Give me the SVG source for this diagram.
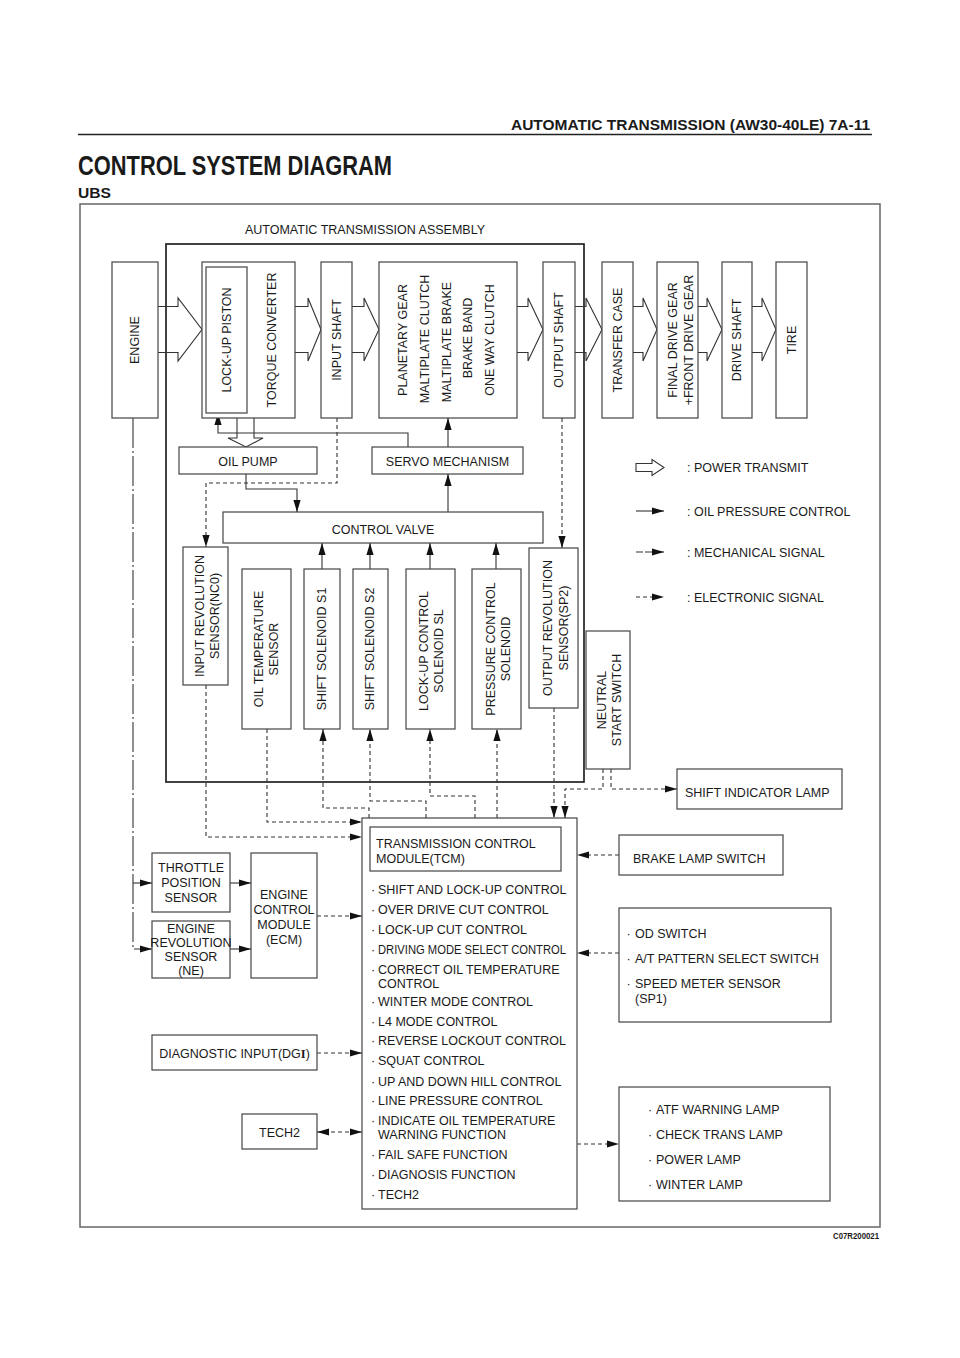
<svg xmlns="http://www.w3.org/2000/svg" width="960" height="1358" viewBox="0 0 960 1358">
<defs>
<style>
text{font-family:"Liberation Sans",Arial,sans-serif;fill:#1a1a1a;font-size:12.5px}
text.hd{font-size:15.5px;font-weight:bold}
text.ttl{font-size:27px;font-weight:bold}
text.sub{font-size:14.5px;font-weight:bold}
text.code{font-size:9px;font-weight:bold}
.b{fill:#fff;stroke:#444;stroke-width:1.2}
.ln{fill:none;stroke:#333;stroke-width:1.1}
.el{fill:none;stroke:#333;stroke-width:1.1;stroke-dasharray:4,3}
.me{fill:none;stroke:#333;stroke-width:1.1;stroke-dasharray:30,3,2,3}
.pw{fill:none;stroke:#333;stroke-width:1.1}
.c{text-anchor:middle}
.v{text-anchor:middle}
</style>
<marker id="ah" markerWidth="13" markerHeight="8" refX="12" refY="4" orient="auto-start-reverse" markerUnits="userSpaceOnUse"><path d="M0,0.4 L12,4 L0,7.6 z" fill="#111"/></marker>
</defs>
<rect width="960" height="1358" fill="#fff"/>

<g id="header">
<text class="hd" x="511" y="130" textLength="359" lengthAdjust="spacingAndGlyphs">AUTOMATIC TRANSMISSION (AW30-40LE)  7A-11</text>
<line x1="78" y1="134.5" x2="872" y2="134.5" stroke="#222" stroke-width="1.6"/>
<text class="ttl" x="78" y="175" textLength="314" lengthAdjust="spacingAndGlyphs">CONTROL SYSTEM DIAGRAM</text>
<text class="sub" x="78" y="198" textLength="33" lengthAdjust="spacingAndGlyphs">UBS</text>
</g>

<rect id="frame" x="80" y="204" width="800" height="1023" fill="none" stroke="#666" stroke-width="1.5"/>
<text class="code" x="879" y="1239" text-anchor="end" textLength="46" lengthAdjust="spacingAndGlyphs">C07R200021</text>

<g id="assembly">
<text x="365" y="234" class="c">AUTOMATIC TRANSMISSION ASSEMBLY</text>
<rect x="166" y="244" width="418" height="538" fill="none" stroke="#222" stroke-width="1.7"/>
</g>

<g id="connectors">
<!-- power transmit arrows -->
<path class="pw" d="M158,306.5 H178 V298 L202,329.5 L178,361 V352.5 H158"/>
<path class="pw" d="M295,306.5 H308 V298 L321,329.5 L308,361 V352.5 H295"/>
<path class="pw" d="M352,306.5 H364 V298 L379,329.5 L364,361 V352.5 H352"/>
<path class="pw" d="M517,306.5 H528 V298 L543,329.5 L528,361 V352.5 H517"/>
<path class="pw" d="M575,306.5 H586 V298 L602,329.5 L586,361 V352.5 H575"/>
<path class="pw" d="M633,306.5 H643 V298 L657,329.5 L643,361 V352.5 H633"/>
<path class="pw" d="M698,306.5 H707 V298 L722,329.5 L707,361 V352.5 H698"/>
<path class="pw" d="M752,306.5 H762 V298 L776,329.5 L762,361 V352.5 H752"/>
<!-- torque converter to oil pump hollow arrow -->
<path class="pw" d="M237,418 V438 H228 L246,447 L263,438 H254 V418"/>
<!-- oil pressure -->
<path class="ln" d="M408,447 V433 H218 V413" marker-end="url(#ah)"/>
<path class="ln" d="M448,447 V418" marker-end="url(#ah)"/>
<path class="ln" d="M448,512 V474" marker-end="url(#ah)"/>
<path class="ln" d="M246,474 V489 H297 V512" marker-end="url(#ah)"/>
<path class="ln" d="M322,569 V543" marker-end="url(#ah)"/>
<path class="ln" d="M370,569 V543" marker-end="url(#ah)"/>
<path class="ln" d="M430,569 V543" marker-end="url(#ah)"/>
<path class="ln" d="M496,569 V543" marker-end="url(#ah)"/>
<!-- electronic -->
<path class="el" d="M337,418 V483 H206 V547" marker-end="url(#ah)"/>
<path class="el" d="M562,418 V548" marker-end="url(#ah)"/>
<path class="el" d="M267,729 V822 H362" marker-end="url(#ah)"/>
<path class="el" d="M206,685 V837 H362" marker-end="url(#ah)"/>
<path class="el" d="M369,818 V808 H323 V729" marker-end="url(#ah)"/>
<path class="el" d="M426,818 V801 H370 V729" marker-end="url(#ah)"/>
<path class="el" d="M475,818 V796 H430 V729" marker-end="url(#ah)"/>
<path class="el" d="M497,818 V729" marker-end="url(#ah)"/>
<path class="el" d="M554,708 V818" marker-end="url(#ah)"/>
<path class="el" d="M603,769 V789 H565 V818" marker-end="url(#ah)"/>
<path class="el" d="M611,769 V789 H677" marker-end="url(#ah)"/>
<path class="el" d="M317,916 H362" marker-end="url(#ah)"/>
<path class="el" d="M317,1053 H362" marker-end="url(#ah)"/>
<path class="el" d="M317,1132 H362" marker-start="url(#ah)" marker-end="url(#ah)"/>
<path class="el" d="M619,855 H577" marker-end="url(#ah)"/>
<path class="el" d="M619,953 H577" marker-end="url(#ah)"/>
<path class="el" d="M577,1144 H619" marker-end="url(#ah)"/>
<!-- mechanical -->
<path class="me" d="M133,418 V949 H152" marker-end="url(#ah)"/>
<path class="me" d="M133,883 H152" marker-end="url(#ah)"/>
<path class="ln" d="M230,883 H251" marker-end="url(#ah)"/>
<path class="ln" d="M230,949 H251" marker-end="url(#ah)"/>
</g>

<g id="engine"><rect class="b" x="112" y="262" width="46" height="156"/>
<text class="v" transform="translate(135,340) rotate(-90)" dy="0.35em">ENGINE</text></g>

<g id="torque-converter"><rect class="b" x="202" y="262" width="93" height="156"/>
<rect class="b" x="206" y="267" width="41" height="146"/>
<text class="v" transform="translate(226.5,340) rotate(-90)" dy="0.35em">LOCK-UP PISTON</text>
<text class="v" transform="translate(272,340) rotate(-90)" dy="0.35em">TORQUE CONVERTER</text></g>

<g id="input-shaft"><rect class="b" x="321" y="262" width="31" height="156"/>
<text class="v" transform="translate(337,340) rotate(-90)" dy="0.35em">INPUT SHAFT</text></g>

<g id="planetary"><rect class="b" x="379" y="262" width="138" height="156"/>
<text class="v" transform="translate(403,340) rotate(-90)" dy="0.35em">PLANETARY GEAR</text>
<text class="v" transform="translate(425,339) rotate(-90)" dy="0.35em">MALTIPLATE CLUTCH</text>
<text class="v" transform="translate(447,342) rotate(-90)" dy="0.35em">MALTIPLATE BRAKE</text>
<text class="v" transform="translate(468,338) rotate(-90)" dy="0.35em">BRAKE BAND</text>
<text class="v" transform="translate(490,340) rotate(-90)" dy="0.35em">ONE WAY CLUTCH</text></g>

<g id="output-shaft"><rect class="b" x="543" y="262" width="32" height="156"/>
<text class="v" transform="translate(559,340) rotate(-90)" dy="0.35em">OUTPUT SHAFT</text></g>

<g id="transfer-case"><rect class="b" x="602" y="262" width="31" height="156"/>
<text class="v" transform="translate(617.5,340) rotate(-90)" dy="0.35em">TRANSFER CASE</text></g>

<g id="final-drive"><rect class="b" x="657" y="262" width="41" height="156"/>
<text class="v" transform="translate(673,340) rotate(-90)" dy="0.35em">FINAL DRIVE GEAR</text>
<text class="v" transform="translate(689,340) rotate(-90)" dy="0.35em">+FRONT DRIVE GEAR</text></g>

<g id="drive-shaft"><rect class="b" x="722" y="262" width="30" height="156"/>
<text class="v" transform="translate(737,340) rotate(-90)" dy="0.35em">DRIVE SHAFT</text></g>

<g id="tire"><rect class="b" x="776" y="262" width="31" height="156"/>
<text class="v" transform="translate(791.5,340) rotate(-90)" dy="0.35em">TIRE</text></g>

<g id="oil-pump"><rect class="b" x="179" y="447" width="138" height="27"/>
<text x="248" y="465.5" class="c">OIL PUMP</text></g>

<g id="servo"><rect class="b" x="372" y="447" width="151" height="27"/>
<text x="447.5" y="465.5" class="c">SERVO MECHANISM</text></g>

<g id="control-valve"><rect class="b" x="223" y="512" width="320" height="31"/>
<text x="383" y="534" class="c">CONTROL VALVE</text></g>

<g id="input-rev-sensor"><rect class="b" x="183" y="547" width="45" height="138"/>
<text class="v" transform="translate(200,616) rotate(-90)" dy="0.35em">INPUT REVOLUTION</text>
<text class="v" transform="translate(215,616) rotate(-90)" dy="0.35em">SENSOR(NC0)</text></g>

<g id="oil-temp-sensor"><rect class="b" x="242" y="569" width="49" height="160"/>
<text class="v" transform="translate(259,649) rotate(-90)" dy="0.35em">OIL TEMPERATURE</text>
<text class="v" transform="translate(274,649) rotate(-90)" dy="0.35em">SENSOR</text></g>

<g id="shift-solenoid-s1"><rect class="b" x="304" y="569" width="36" height="160"/>
<text class="v" transform="translate(322,649) rotate(-90)" dy="0.35em">SHIFT SOLENOID S1</text></g>

<g id="shift-solenoid-s2"><rect class="b" x="353" y="569" width="35" height="160"/>
<text class="v" transform="translate(370,649) rotate(-90)" dy="0.35em">SHIFT SOLENOID S2</text></g>

<g id="lockup-solenoid"><rect class="b" x="406" y="569" width="49" height="160"/>
<text class="v" transform="translate(424,651) rotate(-90)" dy="0.35em">LOCK-UP CONTROL</text>
<text class="v" transform="translate(439,651) rotate(-90)" dy="0.35em">SOLENOID SL</text></g>

<g id="pressure-solenoid"><rect class="b" x="472" y="569" width="49" height="160"/>
<text class="v" transform="translate(491,649) rotate(-90)" dy="0.35em">PRESSURE CONTROL</text>
<text class="v" transform="translate(506,649) rotate(-90)" dy="0.35em">SOLENOID</text></g>

<g id="output-rev-sensor"><rect class="b" x="529" y="548" width="49" height="160"/>
<text class="v" transform="translate(548,628) rotate(-90)" dy="0.35em">OUTPUT REVOLUTION</text>
<text class="v" transform="translate(564,628) rotate(-90)" dy="0.35em">SENSOR(SP2)</text></g>

<g id="neutral-start-switch"><rect class="b" x="586" y="631" width="44" height="138"/>
<text class="v" transform="translate(602,700) rotate(-90)" dy="0.35em">NEUTRAL</text>
<text class="v" transform="translate(617,700) rotate(-90)" dy="0.35em">START SWITCH</text></g>

<g id="shift-indicator-lamp"><rect class="b" x="677" y="769" width="165" height="40"/>
<text x="685" y="796.5">SHIFT INDICATOR LAMP</text></g>

<g id="legend">
<path class="pw" d="M636,463.5 H652 V459.5 L664,467.5 L652,475.5 V471.5 H636 Z"/>
<text x="687" y="472">: POWER TRANSMIT</text>
<path class="ln" d="M636,511 H664" marker-end="url(#ah)"/>
<text x="687" y="515.5">: OIL PRESSURE CONTROL</text>
<path fill="none" stroke="#333" stroke-width="1.1" stroke-dasharray="7,2,3,0" d="M636,552 H664" marker-end="url(#ah)"/>
<text x="687" y="556.5">: MECHANICAL SIGNAL</text>
<path class="el" d="M636,597 H664" marker-end="url(#ah)"/>
<text x="687" y="601.5">: ELECTRONIC SIGNAL</text>
</g>

<g id="throttle-sensor"><rect class="b" x="152" y="853" width="78" height="59"/>
<text x="191" y="872" class="c">THROTTLE</text>
<text x="191" y="887" class="c">POSITION</text>
<text x="191" y="902" class="c">SENSOR</text></g>

<g id="engine-rev-sensor"><rect class="b" x="152" y="921" width="78" height="57"/>
<text x="191" y="932.5" class="c">ENGINE</text>
<text x="191" y="946.5" class="c">REVOLUTION</text>
<text x="191" y="960.5" class="c">SENSOR</text>
<text x="191" y="975" class="c">(NE)</text></g>

<g id="ecm"><rect class="b" x="251" y="853" width="66" height="125"/>
<text x="284" y="898.5" class="c">ENGINE</text>
<text x="284" y="913.5" class="c">CONTROL</text>
<text x="284" y="928.5" class="c">MODULE</text>
<text x="284" y="943.5" class="c">(ECM)</text></g>

<g id="diagnostic-input"><rect class="b" x="152" y="1035" width="165" height="35"/>
<text x="234.5" y="1057.5" class="c">DIAGNOSTIC INPUT(DG<tspan font-family="'Liberation Serif',serif" font-weight="bold">I</tspan>)</text></g>

<g id="tech2"><rect class="b" x="242" y="1114" width="75" height="35"/>
<text x="279.5" y="1136.5" class="c">TECH2</text></g>

<g id="tcm"><rect class="b" x="362" y="818" width="215" height="391"/>
<rect class="b" x="370" y="827" width="191" height="44"/>
<text x="376" y="847.5">TRANSMISSION CONTROL</text>
<text x="376" y="862.5">MODULE(TCM)</text>
<g class="bul">
<text x="373" y="893.5" class="c">·</text>
<text x="373" y="913.5" class="c">·</text>
<text x="373" y="933.5" class="c">·</text>
<text x="373" y="953.5" class="c">·</text>
<text x="373" y="973.5" class="c">·</text>
<text x="373" y="1005.5" class="c">·</text>
<text x="373" y="1025.5" class="c">·</text>
<text x="373" y="1044.5" class="c">·</text>
<text x="373" y="1064.5" class="c">·</text>
<text x="373" y="1085.5" class="c">·</text>
<text x="373" y="1104.5" class="c">·</text>
<text x="373" y="1124.5" class="c">·</text>
<text x="373" y="1158.5" class="c">·</text>
<text x="373" y="1178.5" class="c">·</text>
<text x="373" y="1198.5" class="c">·</text>
</g>
<text x="378" y="893.5">SHIFT AND LOCK-UP CONTROL</text>
<text x="378" y="913.5">OVER DRIVE CUT CONTROL</text>
<text x="378" y="933.5">LOCK-UP CUT CONTROL</text>
<text x="378" y="953.5" textLength="188" lengthAdjust="spacingAndGlyphs">DRIVING MODE SELECT CONTROL</text>
<text x="378" y="973.5">CORRECT OIL TEMPERATURE</text>
<text x="378" y="987.5">CONTROL</text>
<text x="378" y="1005.5">WINTER MODE CONTROL</text>
<text x="378" y="1025.5">L4 MODE CONTROL</text>
<text x="378" y="1044.5">REVERSE LOCKOUT CONTROL</text>
<text x="378" y="1064.5">SQUAT CONTROL</text>
<text x="378" y="1085.5">UP AND DOWN HILL CONTROL</text>
<text x="378" y="1104.5">LINE PRESSURE CONTROL</text>
<text x="378" y="1124.5">INDICATE OIL TEMPERATURE</text>
<text x="378" y="1138.5">WARNING FUNCTION</text>
<text x="378" y="1158.5">FAIL SAFE FUNCTION</text>
<text x="378" y="1178.5">DIAGNOSIS FUNCTION</text>
<text x="378" y="1198.5">TECH2</text>
</g>

<g id="brake-lamp-switch"><rect class="b" x="619" y="835" width="164" height="40"/>
<text x="633" y="862.5">BRAKE LAMP SWITCH</text></g>

<g id="switches"><rect class="b" x="619" y="908" width="212" height="114"/>
<text x="628.5" y="937.5" class="c">·</text><text x="635" y="937.5">OD SWITCH</text>
<text x="628.5" y="962.5" class="c">·</text><text x="635" y="962.5">A/T PATTERN SELECT SWITCH</text>
<text x="628.5" y="987.5" class="c">·</text><text x="635" y="987.5">SPEED METER SENSOR</text>
<text x="635" y="1002.5">(SP1)</text></g>

<g id="lamps"><rect class="b" x="619" y="1087" width="211" height="114"/>
<text x="650" y="1113.5" class="c">·</text><text x="656" y="1113.5">ATF WARNING LAMP</text>
<text x="650" y="1138.5" class="c">·</text><text x="656" y="1138.5">CHECK TRANS LAMP</text>
<text x="650" y="1163.5" class="c">·</text><text x="656" y="1163.5">POWER LAMP</text>
<text x="650" y="1188.5" class="c">·</text><text x="656" y="1188.5">WINTER LAMP</text></g>
</svg>
